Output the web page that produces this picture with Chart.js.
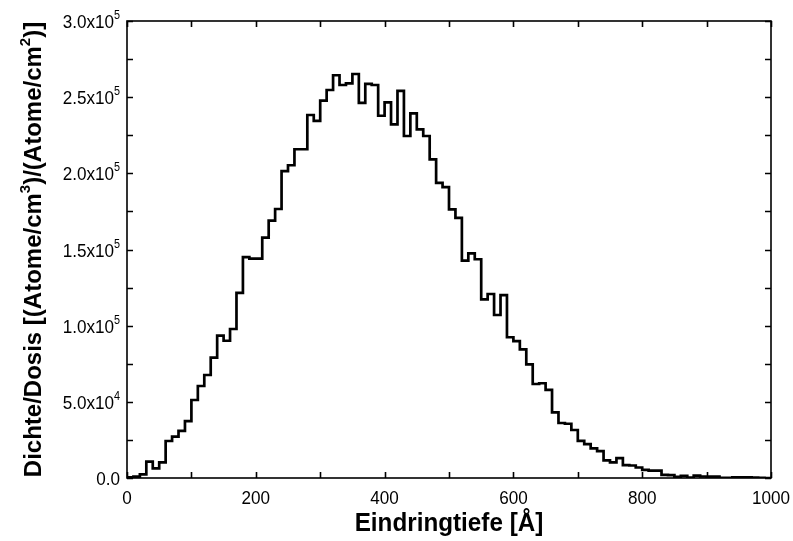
<!DOCTYPE html>
<html><head><meta charset="utf-8">
<script src="https://cdn.jsdelivr.net/npm/chart.js@4/dist/chart.umd.min.js"></script>
<style>html,body{margin:0;padding:0;background:#fff;}#wrap{width:793px;height:541px;}</style>
</head><body><div id="wrap"><canvas id="c" width="793" height="541"></canvas></div>
<script>
// bin edges in Å (10 Å bins)
const binEdges = [0,10,20,30,40,50,60,70,80,90,100,110,120,130,140,150,160,170,180,190,
200,210,220,230,240,250,260,270,280,290,300,310,320,330,340,350,360,370,380,390,
400,410,420,430,440,450,460,470,480,490,500,510,520,530,540,550,560,570,580,590,
600,610,620,630,640,650,660,670,680,690,700,710,720,730,740,750,760,770,780,790,
800,810,820,830,840,850,860,870,880,890,900,910,920,930,940,950,960,970,980,990,1000];
// Dichte/Dosis per bin
const density = [500,900,2400,10700,6300,10300,24300,27100,30900,37400,
51200,60400,67600,79000,93400,90100,97800,121500,145000,144000,
144000,157800,168900,176600,201500,205300,215800,215800,238300,234400,
247700,254700,264400,258000,259100,265200,246200,258700,258000,237800,
246600,232200,254100,224500,239400,228900,224500,209200,193700,191000,
176400,170700,142700,147500,143600,117300,120800,107000,120100,92400,
89900,84500,74600,61700,62200,57800,43100,36100,35600,31500,
24400,22300,19500,17600,11600,10300,13100,8500,8200,6900,
5300,4800,4800,2000,1900,700,1400,300,1600,1000,
900,900,100,100,500,400,400,200,100,0];
const xTicks = [0,100,200,300,400,500,600,700,800,900,1000];
const xTickLabels = ['0','','200','','400','','600','','800','','1000'];
const yTicks = [0,25000,50000,75000,100000,125000,150000,175000,200000,225000,250000,275000,300000];
const yTickMantissa = ['0.0','','5.0','','1.0','','1.5','','2.0','','2.5','','3.0'];
const yTickExponent = ['','','4','','5','','5','','5','','5','','5'];
const xTitle = 'Eindringtiefe [Å]';
const yTitleParts = [['Dichte/Dosis [(Atome/cm',0],['3',1],[')/(Atome/cm',0],['2',1],[')]',0]];

const points = binEdges.map((x,i)=>({x:x, y:density[Math.min(i,density.length-1)]}));

const FONT = '"Liberation Sans", Arial, sans-serif';

function richWidth(ctx, parts, size, sup, weight, sx){
  let w=0;
  for(const [t,s] of parts){ ctx.font = weight+' '+(s?sup:size)+'px '+FONT; w+=ctx.measureText(t).width*sx; }
  return w;
}
function drawRich(ctx, parts, x, y, size, sup, weight, rise, sx){
  let cx=x;
  for(const [t,s] of parts){
    ctx.font = weight+' '+(s?sup:size)+'px '+FONT;
    ctx.save();
    ctx.translate(cx, s? y-rise : y);
    ctx.scale(sx,1);
    ctx.fillText(t, 0, 0);
    ctx.restore();
    cx+=ctx.measureText(t).width*sx;
  }
}

const axesPlugin = {
  id:'axesPlugin',
  afterDraw(chart){
    const ctx=chart.ctx, a=chart.chartArea, xs=chart.scales.x, ys=chart.scales.y;
    ctx.save();
    ctx.strokeStyle='#000'; ctx.fillStyle='#000'; ctx.lineWidth=1.6;
    ctx.strokeRect(a.left, a.top, a.right-a.left, a.bottom-a.top);
    const tl=6;
    ctx.beginPath();
    xTicks.forEach(v=>{
      const px=Math.round(xs.getPixelForValue(v))+0.5;
      ctx.moveTo(px,a.bottom); ctx.lineTo(px,a.bottom-tl);
      ctx.moveTo(px,a.top); ctx.lineTo(px,a.top+tl);
    });
    yTicks.forEach(v=>{
      const py=Math.round(ys.getPixelForValue(v))+0.5;
      ctx.moveTo(a.left,py); ctx.lineTo(a.left+tl,py);
      ctx.moveTo(a.right,py); ctx.lineTo(a.right-tl,py);
    });
    ctx.stroke();
    ctx.textBaseline='alphabetic'; ctx.textAlign='left';
    // x tick labels
    xTicks.forEach((v,i)=>{
      if(!xTickLabels[i]) return;
      const parts=[[xTickLabels[i],0]];
      const w = richWidth(ctx, parts, 19, 12, 'normal', 0.9);
      drawRich(ctx, parts, xs.getPixelForValue(v)-w/2, a.bottom+26, 19, 12, 'normal', 0, 0.9);
    });
    // y tick labels
    yTicks.forEach((v,i)=>{
      if(!yTickMantissa[i]) return;
      const parts = yTickExponent[i] ? [[yTickMantissa[i]+'x10',0],[yTickExponent[i],1]] : [[yTickMantissa[i],0]];
      const w = richWidth(ctx, parts, 19, 12, 'normal', 0.9);
      drawRich(ctx, parts, 120-w, ys.getPixelForValue(v)+7, 19, 12, 'normal', 9, 0.9);
    });
    // x title
    {
      const parts=[[xTitle,0]];
      const w = richWidth(ctx, parts, 25, 15, 'bold', 0.97);
      drawRich(ctx, parts, (a.left+a.right)/2 - w/2, 531, 25, 15, 'bold', 0, 0.97);
    }
    // y title
    ctx.save();
    ctx.translate(41, (a.top+a.bottom)/2);
    ctx.rotate(-Math.PI/2);
    const w = richWidth(ctx, yTitleParts, 24, 15, 'bold', 1);
    drawRich(ctx, yTitleParts, -w/2, 0, 24, 15, 'bold', 11, 1);
    ctx.restore();
    ctx.restore();
  }
};

new Chart(document.getElementById('c'), {
  type:'line',
  data:{datasets:[{data:points, stepped:'before', borderColor:'#000', borderWidth:2.7,
    pointRadius:0, fill:false, borderJoinStyle:'miter', borderCapStyle:'butt'}]},
  options:{
    responsive:false, animation:false, devicePixelRatio:1,
    layout:{padding:{left:127,right:22,top:21,bottom:63}},
    plugins:{legend:{display:false}, tooltip:{enabled:false}},
    scales:{
      x:{type:'linear', min:0, max:1000, display:false},
      y:{type:'linear', min:0, max:300000, display:false}
    }
  },
  plugins:[axesPlugin]
});
</script></body></html>
